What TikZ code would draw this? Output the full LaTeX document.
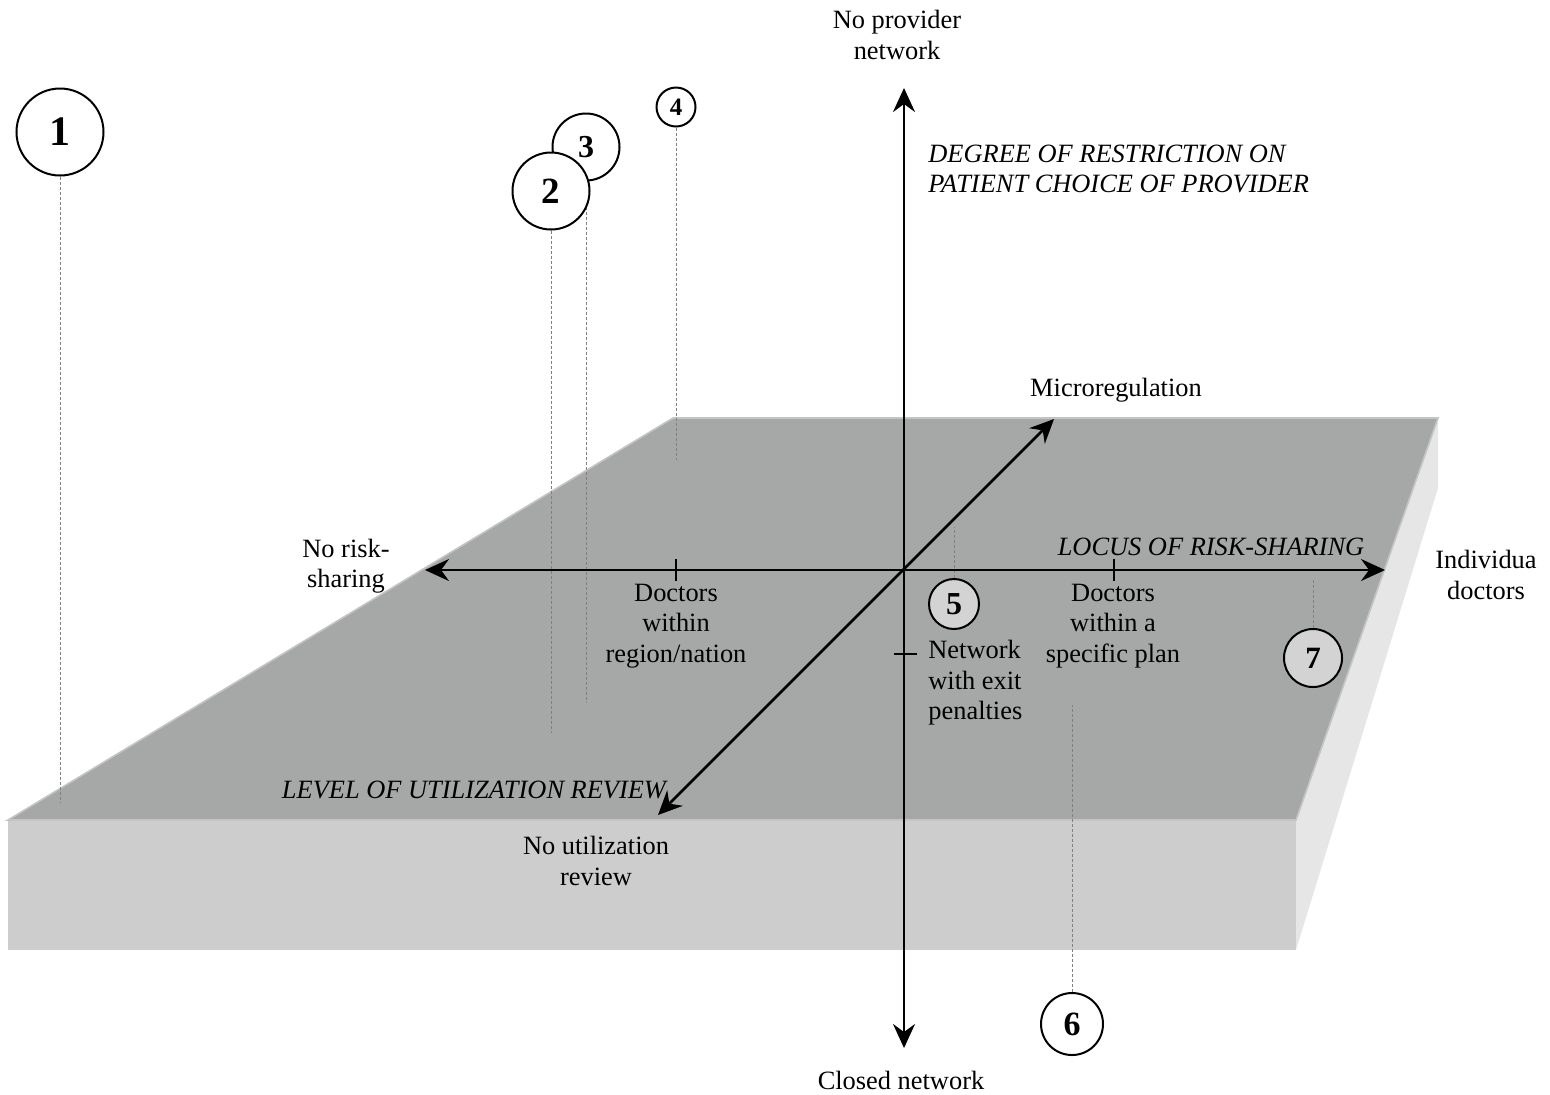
\documentclass[tikz,border=0pt]{standalone}
\usepackage{fontspec}
\setmainfont{Liberation Serif}
\usetikzlibrary{positioning, arrows.meta, shapes}
\definecolor{topgray}{HTML}{A6A8A7}
\definecolor{frontgray}{HTML}{CDCDCD}
\definecolor{sidegray}{HTML}{E6E6E6}
\definecolor{edgegray}{HTML}{C4C4C4}
\definecolor{markfill}{HTML}{D3D3D3}
\tikzstyle{axis} = [line width=1.3pt, {Stealth[length=12pt,width=11pt,inset=4pt]}-{Stealth[length=12pt,width=11pt,inset=4pt]}]
\tikzstyle{tickmark} = [line width=0.9pt]
\tikzstyle{drop} = [gray, line width=0.4pt, dash pattern=on 1.5pt off 1pt]
\tikzstyle{marker} = [circle, draw=black, line width=1pt, fill=white, inner sep=0pt]
\tikzstyle{txt} = [inner sep=0pt, align=center, font=\fontsize{13.2}{15.3}\selectfont]
\tikzstyle{axistitle} = [inner sep=0pt, font=\fontsize{13.2}{15.3}\selectfont\itshape]

\begin{document}
\begin{tikzpicture}[x=0.5pt, y=-0.5pt]
    \useasboundingbox (0,0) rectangle (1550,1094);
    % slab
    \fill[sidegray] (1296,820) -- (1438,418) -- (1438,488) -- (1296,950) -- cycle;
    \fill[frontgray] (8,820) rectangle (1296,950);
    \filldraw[fill=topgray, draw=edgegray, line width=0.8pt]
      (8,820) -- (673,418) -- (1438,418) -- (1296,820) -- cycle;
    % texts
    \node (provider) [txt] at (897,35) {No provider\\network};
    \node (closed) [txt] at (901,1080) {Closed network};
    \node (microreg) [txt] at (1116,390) {Microregulation};
    \node (norisk) [txt] at (346,566) {No risk-\\sharing};
    \node (indiv) [txt] at (1486,575) {Individua\\doctors};
    \node (region) [txt] at (676,626) {Doctors\\within\\region/nation};
    \node (plan) [txt] at (1113,626) {Doctors\\within a\\specific plan};
    \node (exit) [txt, align=left, anchor=west] at (928,683) {Network\\with exit\\penalties};
    \node (noreview) [txt] at (596,861) {No utilization\\review};
    \node (restriction) [axistitle, align=left, anchor=west] at (928,169)
      {DEGREE OF RESTRICTION ON\\PATIENT CHOICE OF PROVIDER};
    \node (locus) [axistitle] at (1211,547) {LOCUS OF RISK-SHARING};
    \node (level) [axistitle] at (474,790) {LEVEL OF UTILIZATION REVIEW};
    % feet of the drop lines
    \coordinate (f1) at (60,802);
    \coordinate (f2) at (551,733);
    \coordinate (f3) at (586,702);
    \coordinate (f4) at (676,460);
    \coordinate (f5) at (954,527);
    \coordinate (f6) at (1072,705);
    \coordinate (f7) at (1313,578);
    % numbered circles
    \node (1) [marker, minimum size=43.5pt, font=\bfseries\fontsize{21}{21}\selectfont] at (60,132) {1};
    \node (3) [marker, minimum size=33.5pt, font=\bfseries\fontsize{16}{16}\selectfont] at (586,147) {3};
    \draw [drop] (3) -- (f3);
    \node (2) [marker, minimum size=38.5pt, font=\bfseries\fontsize{18.5}{18.5}\selectfont] at (551,191) {2};
    \node (4) [marker, minimum size=19.5pt, font=\bfseries\fontsize{12.5}{12.5}\selectfont] at (676,107) {4};
    \node (5) [marker, fill=markfill, minimum size=25pt, font=\bfseries\fontsize{16}{16}\selectfont] at (954,604) {5};
    \node (6) [marker, minimum size=31pt, font=\bfseries\fontsize{17}{17}\selectfont] at (1072,1024) {6};
    \node (7) [marker, fill=markfill, minimum size=29pt, font=\bfseries\fontsize{15.5}{15.5}\selectfont] at (1313,658) {7};
    \foreach \n in {1,2,4,5,6,7}
      \draw [drop] (\n) -- (f\n);
    % axes
    \coordinate (top) at (904,88);
    \coordinate (bottom) at (904,1048);
    \coordinate (left) at (425,570);
    \coordinate (right) at (1385,570);
    \coordinate (up) at (1054,419);
    \coordinate (down) at (658,815);
    \draw [axis] (bottom) -- (top);
    \draw [axis] (left) -- (right);
    \draw [axis] (down) -- (up);
    % ticks
    \draw [tickmark] (676,559) -- (676,581);
    \draw [tickmark] (1114,559) -- (1114,581);
    \draw [tickmark] (894,654) -- (917,654);
\end{tikzpicture}
\end{document}
